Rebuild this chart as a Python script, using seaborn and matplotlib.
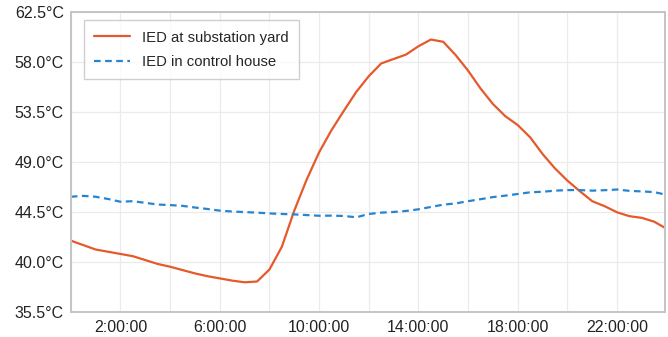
import pandas as pd
import matplotlib
matplotlib.use("Agg")
import matplotlib.pyplot as plt
from matplotlib.ticker import FuncFormatter
import seaborn as sns

# sample times (hours after midnight)
hours = [0.0, 0.5, 1.0, 1.5, 2.0, 2.5, 3.0, 3.5, 4.0, 4.5, 5.0, 5.5,
         6.0, 6.5, 7.0, 7.5, 8.0, 8.5, 9.0, 9.5, 10.0, 10.5, 11.0, 11.5,
         12.0, 12.5, 13.0, 13.5, 14.0, 14.5, 15.0, 15.5, 16.0, 16.5, 17.0, 17.5,
         18.0, 18.5, 19.0, 19.5, 20.0, 20.5, 21.0, 21.5, 22.0, 22.5, 23.0, 23.5, 23.93]

yard_temp = [41.9, 41.5, 41.1, 40.9, 40.7, 40.5, 40.15, 39.8, 39.55, 39.25, 38.95, 38.7,
             38.5, 38.3, 38.15, 38.22, 39.3, 41.35, 44.6, 47.4, 49.85, 51.85, 53.6, 55.3,
             56.7, 57.85, 58.25, 58.65, 59.4, 60.0, 59.8, 58.6, 57.2, 55.6, 54.2, 53.1,
             52.3, 51.2, 49.7, 48.4, 47.3, 46.35, 45.45, 45.0, 44.45, 44.1, 43.95, 43.6, 43.05]

house_temp = [45.85, 45.93, 45.85, 45.65, 45.4, 45.45, 45.3, 45.15, 45.1, 45.03, 44.88, 44.75,
              44.6, 44.52, 44.47, 44.42, 44.35, 44.3, 44.26, 44.2, 44.14, 44.15, 44.12, 44.0,
              44.3, 44.42, 44.48, 44.57, 44.72, 44.93, 45.14, 45.25, 45.45, 45.63, 45.82, 45.95,
              46.1, 46.25, 46.3, 46.4, 46.45, 46.45, 46.4, 46.44, 46.5, 46.38, 46.33, 46.27, 46.05]

y_ticks = [35.5, 40.0, 44.5, 49.0, 53.5, 58.0, 62.5]
x_ticks = [2, 6, 10, 14, 18, 22]
x_minor = [0, 4, 8, 12, 16, 20]

series_names = ["IED at substation yard", "IED in control house"]
colors = ["#E5592B", "#2585D3"]

df = pd.DataFrame({"hour": hours, series_names[0]: yard_temp, series_names[1]: house_temp})
long_df = df.melt(id_vars="hour", var_name="series", value_name="temp")

sns.set_style("whitegrid")
plt.rcParams["font.family"] = ["Liberation Sans", "DejaVu Sans"]

fig = plt.figure(figsize=(6.68, 3.37), dpi=100)
ax = fig.add_axes([0.106, 0.075, 0.8895, 0.89])

sns.lineplot(data=long_df, x="hour", y="temp", hue="series", style="series",
             palette=dict(zip(series_names, colors)),
             dashes={series_names[0]: "", series_names[1]: (3, 2)},
             linewidth=1.6, ax=ax)

ax.set_xlim(0, 23.93)
ax.set_ylim(y_ticks[0], y_ticks[-1])
ax.set_yticks(y_ticks)
ax.yaxis.set_major_formatter(FuncFormatter(lambda v, p: f"{v:.1f}°C"))
ax.set_xticks(x_ticks)
ax.set_xticks(x_minor, minor=True)
ax.xaxis.set_major_formatter(FuncFormatter(lambda v, p: f"{int(round(v))}:00:00"))
ax.grid(True, which="both", color="#ebebeb", linewidth=0.9)
ax.tick_params(axis="both", which="both", length=0, labelsize=11.5, colors="#222222", pad=5)
ax.tick_params(axis="x", pad=6)
ax.set_xlabel("")
ax.set_ylabel("")

for s in ax.spines.values():
    s.set_color("#c4c4c4")
    s.set_linewidth(1.4)

leg = ax.legend(loc="upper left", bbox_to_anchor=(0.022, 0.972), borderaxespad=0,
                fontsize=10.7, frameon=True, fancybox=False, edgecolor="#c4c4c4",
                handlelength=2.4, borderpad=0.7, labelspacing=0.7, handletextpad=0.8)
leg.get_frame().set_linewidth(1.0)

fig.savefig("out.png", dpi=100)
